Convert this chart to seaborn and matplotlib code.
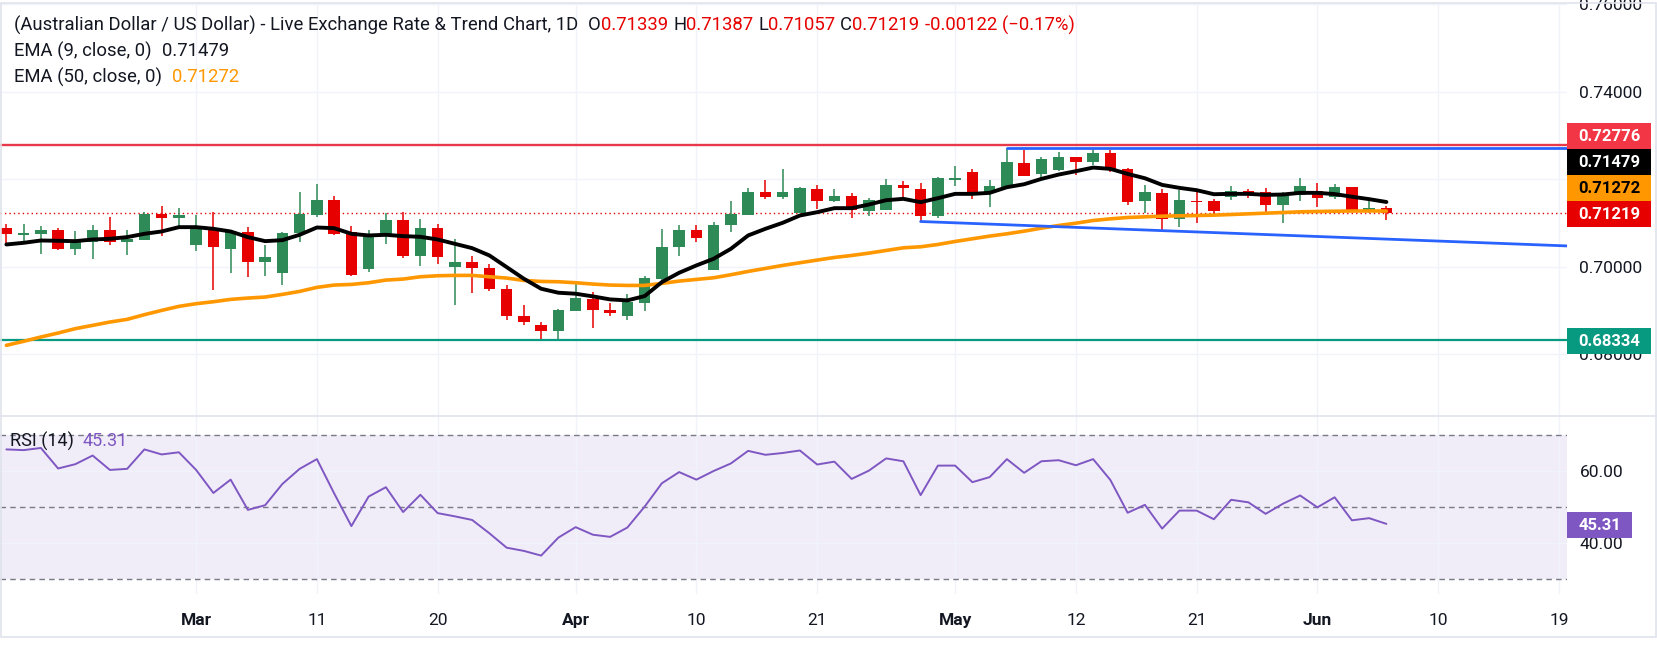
import numpy as np
import pandas as pd
import matplotlib
matplotlib.use("Agg")
import matplotlib.pyplot as plt
import seaborn as sns
from matplotlib.patches import Rectangle
from matplotlib.lines import Line2D

# ---- data (daily AUD/USD candles) ----
opens = [0.70889, 0.70714, 0.70752, 0.70843, 0.70409, 0.70554, 0.70843, 0.70554, 0.70599, 0.71208,
         0.71102, 0.70500, 0.70866, 0.70409, 0.70797, 0.70097, 0.69846, 0.70759, 0.71193, 0.71528,
         0.70797, 0.69937, 0.70706, 0.71071, 0.70234, 0.70889, 0.69983, 0.70112, 0.69975, 0.69496,
         0.68880, 0.68674, 0.68522, 0.68994, 0.69268, 0.69017, 0.68864, 0.69161, 0.69709, 0.70440,
         0.70843, 0.69914, 0.70942, 0.71193, 0.71711, 0.71604, 0.71231, 0.71779, 0.71513, 0.71619,
         0.71262, 0.71307, 0.71870, 0.71779, 0.71170, 0.71992, 0.72167, 0.71688, 0.71825, 0.72373,
         0.72121, 0.72213, 0.72510, 0.72395, 0.72601, 0.72236, 0.71513, 0.71688, 0.71079, 0.71513,
         0.71505, 0.71604, 0.71733, 0.71711, 0.71399, 0.71642, 0.71733, 0.71604, 0.71825, 0.71284,
         0.71339]
highs = [0.70980, 0.70980, 0.70919, 0.70889, 0.70812, 0.70957, 0.71140, 0.70843, 0.71246, 0.71391,
         0.71345, 0.71185, 0.71254, 0.70805, 0.70911, 0.70485, 0.70790, 0.71711, 0.71893, 0.71619,
         0.70934, 0.70843, 0.71224, 0.71254, 0.71094, 0.70980, 0.70638, 0.70249, 0.70052, 0.69587,
         0.69131, 0.68743, 0.69039, 0.69633, 0.69428, 0.69176, 0.69382, 0.69793, 0.70866, 0.70957,
         0.70942, 0.71026, 0.71505, 0.71802, 0.71985, 0.72236, 0.71817, 0.71870, 0.71779, 0.71688,
         0.71574, 0.72007, 0.71962, 0.71916, 0.72053, 0.72304, 0.72236, 0.71985, 0.72712, 0.72670,
         0.72510, 0.72624, 0.72510, 0.72712, 0.72670, 0.72258, 0.71870, 0.71779, 0.71756, 0.71711,
         0.71551, 0.71848, 0.71779, 0.71802, 0.71711, 0.72030, 0.71916, 0.71893, 0.71825, 0.71528,
         0.71387]
lows = [0.70462, 0.70577, 0.70295, 0.70371, 0.70257, 0.70166, 0.70500, 0.70272, 0.70599, 0.70691,
        0.70904, 0.70348, 0.69458, 0.69861, 0.69755, 0.69778, 0.69572, 0.70554, 0.71147, 0.70721,
        0.69790, 0.69869, 0.70508, 0.70204, 0.70006, 0.70067, 0.69116, 0.69390, 0.69435, 0.68773,
        0.68659, 0.68339, 0.68354, 0.68978, 0.68606, 0.68864, 0.68773, 0.68994, 0.69648, 0.70234,
        0.70554, 0.69914, 0.70782, 0.71193, 0.71551, 0.71558, 0.71231, 0.71322, 0.71490, 0.71117,
        0.71170, 0.71307, 0.71528, 0.71033, 0.71117, 0.71855, 0.71551, 0.71368, 0.71802, 0.72068,
        0.72007, 0.72190, 0.72106, 0.72327, 0.72167, 0.71414, 0.71224, 0.70828, 0.70896, 0.71010,
        0.71193, 0.71528, 0.71574, 0.71254, 0.70988, 0.71513, 0.71368, 0.71551, 0.71284, 0.71216,
        0.71057]
closes = [0.70736, 0.70774, 0.70843, 0.70409, 0.70569, 0.70843, 0.70554, 0.70622, 0.71208, 0.71102,
          0.71178, 0.70866, 0.70440, 0.70805, 0.70097, 0.70227, 0.70767, 0.71208, 0.71528, 0.70752,
          0.69800, 0.70729, 0.71071, 0.70234, 0.70889, 0.70211, 0.70112, 0.69960, 0.69481, 0.68864,
          0.68727, 0.68522, 0.69017, 0.69291, 0.69001, 0.68933, 0.69184, 0.69747, 0.70455, 0.70843,
          0.70645, 0.70957, 0.71208, 0.71711, 0.71604, 0.71711, 0.71802, 0.71513, 0.71619, 0.71300,
          0.71528, 0.71870, 0.71802, 0.71170, 0.72030, 0.72030, 0.71665, 0.71848, 0.72395, 0.72083,
          0.72464, 0.72510, 0.72395, 0.72601, 0.72213, 0.71490, 0.71711, 0.71079, 0.71528, 0.71490,
          0.71284, 0.71733, 0.71695, 0.71421, 0.71642, 0.71848, 0.71581, 0.71825, 0.71284, 0.71341,
          0.71219]
ema9 = [0.70508, 0.70546, 0.70599, 0.70592, 0.70584, 0.70622, 0.70638, 0.70676, 0.70752, 0.70805,
        0.70904, 0.70904, 0.70866, 0.70805, 0.70676, 0.70584, 0.70607, 0.70729, 0.70896, 0.70881,
        0.70752, 0.70714, 0.70729, 0.70699, 0.70683, 0.70622, 0.70523, 0.70424, 0.70257, 0.69991,
        0.69724, 0.69496, 0.69405, 0.69382, 0.69321, 0.69252, 0.69230, 0.69328, 0.69648, 0.69861,
        0.70029, 0.70181, 0.70409, 0.70714, 0.70866, 0.71003, 0.71170, 0.71246, 0.71338, 0.71338,
        0.71421, 0.71520, 0.71551, 0.71475, 0.71566, 0.71665, 0.71665, 0.71688, 0.71817, 0.71885,
        0.72007, 0.72106, 0.72183, 0.72266, 0.72236, 0.72121, 0.72022, 0.71870, 0.71802, 0.71749,
        0.71657, 0.71665, 0.71665, 0.71642, 0.71650, 0.71688, 0.71688, 0.71660, 0.71600, 0.71544,
        0.71479]
ema50 = [0.68203, 0.68294, 0.68393, 0.68484, 0.68584, 0.68659, 0.68735, 0.68796, 0.68903, 0.69001,
         0.69093, 0.69154, 0.69199, 0.69253, 0.69283, 0.69306, 0.69367, 0.69435, 0.69527, 0.69580,
         0.69595, 0.69633, 0.69694, 0.69717, 0.69770, 0.69793, 0.69801, 0.69801, 0.69770, 0.69740,
         0.69686, 0.69663, 0.69656, 0.69633, 0.69603, 0.69580, 0.69572, 0.69572, 0.69618, 0.69671,
         0.69709, 0.69747, 0.69816, 0.69892, 0.69960, 0.70029, 0.70090, 0.70151, 0.70211, 0.70257,
         0.70310, 0.70371, 0.70432, 0.70455, 0.70508, 0.70577, 0.70638, 0.70699, 0.70752, 0.70812,
         0.70881, 0.70942, 0.70995, 0.71056, 0.71094, 0.71125, 0.71140, 0.71155, 0.71163, 0.71170,
         0.71178, 0.71193, 0.71208, 0.71224, 0.71239, 0.71254, 0.71262, 0.71268, 0.71272, 0.71274,
         0.71272]
rsi = [66.0, 65.8, 66.4, 60.7, 61.9, 64.3, 60.3, 60.6, 66.0, 64.6,
       65.2, 60.3, 53.9, 57.6, 49.2, 50.5, 56.4, 60.6, 63.3, 53.8,
       44.7, 52.9, 55.5, 48.6, 53.4, 48.3, 47.4, 46.4, 42.7, 38.7,
       37.8, 36.5, 41.5, 44.4, 42.3, 41.7, 44.3, 50.1, 56.6, 59.7,
       57.6, 60.0, 62.1, 65.6, 64.5, 65.0, 65.7, 61.8, 62.6, 57.8,
       60.1, 63.5, 62.7, 53.3, 61.5, 61.5, 56.9, 58.3, 63.3, 59.5,
       62.7, 63.0, 61.6, 63.3, 57.5, 48.4, 50.6, 44.0, 49.0, 49.0,
       46.6, 52.0, 51.3, 48.1, 50.9, 53.2, 49.9, 52.7, 46.3, 46.9,
       45.31]

# x-axis labels (bar index of each label)
tick_pos = [11, 18, 25, 33, 40, 47, 55, 62, 69, 76, 83, 90]
tick_labels = ["Mar", "11", "20", "Apr", "10", "21", "May", "12", "21", "Jun", "10", "19"]
month_labels = {"Mar", "Apr", "May", "Jun"}

# price scale ticks (0.72000 sits under the price tags, so its label is hidden)
price_ticks = [0.68, 0.70, 0.72, 0.74, 0.76]
price_tick_labels = ["0.68000", "0.70000", "", "0.74000", "0.76000"]

# horizontal levels and trend lines
resistance = 0.72776
support = 0.68334
top_trend_x = [58, 91]
top_trend_y = [0.72712, 0.72712]
low_trend_x = [53, 91]
low_trend_y = [0.71033, 0.70467]

df = pd.DataFrame({"idx": np.arange(len(closes)), "open": opens, "high": highs,
                   "low": lows, "close": closes, "ema9": ema9, "ema50": ema50, "rsi": rsi})

UP, DOWN = "#2E8A57", "#E60000"
TXT = "#131722"
GRID = "#F0F3FA"

sns.set_style("white")
plt.rcParams["font.family"] = ["Roboto", "DejaVu Sans"]

W, H = 1658, 647
fig = plt.figure(figsize=(W / 100, H / 100), dpi=100)


def box(x0, y0, x1, y1):
    return [x0 / W, 1 - y1 / H, (x1 - x0) / W, (y1 - y0) / H]


ax = fig.add_axes(box(0, 4, 1567, 416))
ax_r = fig.add_axes(box(0, 416, 1567, 594), sharex=ax)

# ---- price pane ----
ax.set_xlim(-0.37, 90.47)
ax.set_ylim(0.66587, 0.76005)
ax.set_yticks(price_ticks)
ax.set_yticklabels(price_tick_labels)
ax.yaxis.tick_right()
ax.tick_params(axis="y", length=0, pad=9, labelsize=12.5, labelcolor=TXT)
ax.tick_params(axis="x", length=0, labelbottom=False)
ax.set_xticks(tick_pos)
ax.grid(True, color=GRID, lw=1)
for s in ax.spines.values():
    s.set_visible(False)

colors = np.where(df["close"] >= df["open"], UP, DOWN)
ax.vlines(df["idx"], df["low"], df["high"], colors=colors, lw=1.1, zorder=3)
body_lo = np.minimum(df["open"], df["close"])
body_h = np.maximum(np.abs(df["close"] - df["open"]), 0.00004)
ax.bar(df["idx"], body_h, bottom=body_lo, width=0.66, color=colors, lw=0, zorder=3)

sns.lineplot(data=df, x="idx", y="ema50", ax=ax, color="#FF9800", lw=2.6, legend=False, zorder=4)
sns.lineplot(data=df, x="idx", y="ema9", ax=ax, color="black", lw=2.8, legend=False, zorder=5)

ax.axhline(resistance, color="#E8394A", lw=1.7, zorder=2)
ax.axhline(support, color="#089981", lw=1.6, zorder=2)
ax.axhline(closes[-1], color=DOWN, lw=1, ls=(0, (1, 2.2)), zorder=2)
ax.plot(top_trend_x, top_trend_y, color="#2962FF", lw=2, zorder=6)
ax.plot(low_trend_x, low_trend_y, color="#2962FF", lw=2, zorder=6)
ax.set_xlabel("")
ax.set_ylabel("")

# ---- RSI pane ----
ax_r.set_ylim(25.83, 75.28)
ax_r.axhspan(30, 70, color="#7E57C2", alpha=0.1, lw=0, zorder=0)
for lvl in (70, 50, 30):
    ax_r.axhline(lvl, color="#787B86", lw=1, ls=(0, (4, 3)), zorder=1)
sns.lineplot(data=df, x="idx", y="rsi", ax=ax_r, color="#7E57C2", lw=1.4, legend=False, zorder=3)
ax_r.set_yticks([40, 60])
ax_r.set_yticklabels(["40.00", "60.00"])
ax_r.yaxis.tick_right()
ax_r.tick_params(axis="y", length=0, pad=9, labelsize=12.5, labelcolor=TXT)
ax_r.set_xticks(tick_pos)
ax_r.set_xticklabels(tick_labels)
ax_r.tick_params(axis="x", length=0, pad=14, labelsize=12.5, labelcolor=TXT)
for lab in ax_r.get_xticklabels():
    if lab.get_text() in month_labels:
        lab.set_fontweight("bold")
ax_r.grid(True, color=GRID, lw=1)
ax_r.set_xlabel("")
ax_r.set_ylabel("")
for s in ax_r.spines.values():
    s.set_visible(False)
ax_r.set_xlim(-0.37, 90.47)

# ---- frame and pane separator ----
FRAME = "#E0E3EB"
fig.add_artist(Rectangle((1 / W, 1 - 637 / H), 1655 / W, 634 / H, transform=fig.transFigure,
                         fill=False, edgecolor=FRAME, lw=1.2, zorder=20))
fig.add_artist(Line2D([0, 1], [1 - 416 / H] * 2, transform=fig.transFigure, color=FRAME, lw=1.2, zorder=20))


# ---- price tags on the right scale ----
def tag(y_px, text, bg, fg, width=84, h=26):
    fig.add_artist(Rectangle((1567 / W, 1 - (y_px + h / 2) / H), width / W, h / H,
                             transform=fig.transFigure, facecolor=bg, edgecolor="none", zorder=30))
    fig.text((1567 + width / 2) / W, 1 - (y_px + 0.5) / H, text, color=fg, fontsize=12,
             fontweight="bold", ha="center", va="center", zorder=31)


def to_px(a, v):
    return H - a.transData.transform((0, v))[1]


tags = [(support, "#089981", "white"), (closes[-1], "#E60000", "white"),
        (ema50[-1], "#FF9800", "black"), (ema9[-1], "black", "white"),
        (resistance, "#F23645", "white")]
prev = 1e9
for val, bg, fg in tags:
    y = min(to_px(ax, val) + 1, prev - 26)
    prev = y
    tag(y, f"{val:.5f}", bg, fg)
tag(to_px(ax_r, rsi[-1]) + 1, f"{rsi[-1]:.2f}", "#7E57C2", "white", width=65)

# ---- legend rows at the top left ----
renderer = fig.canvas.get_renderer()


def row(y_px, pieces, x_px=14, fs=13.3):
    x = x_px
    for s, c, gap in pieces:
        t = fig.text(x / W, 1 - y_px / H, s, color=c, fontsize=fs, ha="left", va="center", zorder=40)
        x += t.get_window_extent(renderer=renderer).width + gap


RED = "#E60000"
chg = closes[-1] - closes[-2]
pct = chg / closes[-2] * 100
row(25, [("(Australian Dollar / US Dollar) - Live Exchange Rate & Trend Chart, 1D", TXT, 10),
         ("O", TXT, 0), (f"{opens[-1]:.5f}", RED, 5),
         ("H", TXT, 0), (f"{highs[-1]:.5f}", RED, 5),
         ("L", TXT, 0), (f"{lows[-1]:.5f}", RED, 5),
         ("C", TXT, 0), (f"{closes[-1]:.5f}", RED, 6),
         (f"{chg:.5f} (\u2212{abs(pct):.2f}%)", RED, 0)])
row(51, [("EMA (9, close, 0)", TXT, 10), (f"{ema9[-1]:.5f}", TXT, 0)])
row(77, [("EMA (50, close, 0)", TXT, 10), (f"{ema50[-1]:.5f}", "#FF9800", 0)])
row(441, [("RSI (14)", TXT, 9), (f"{rsi[-1]:.2f}", "#7E57C2", 0)], x_px=10, fs=13)

fig.savefig("out.png", dpi=100, facecolor="white")
